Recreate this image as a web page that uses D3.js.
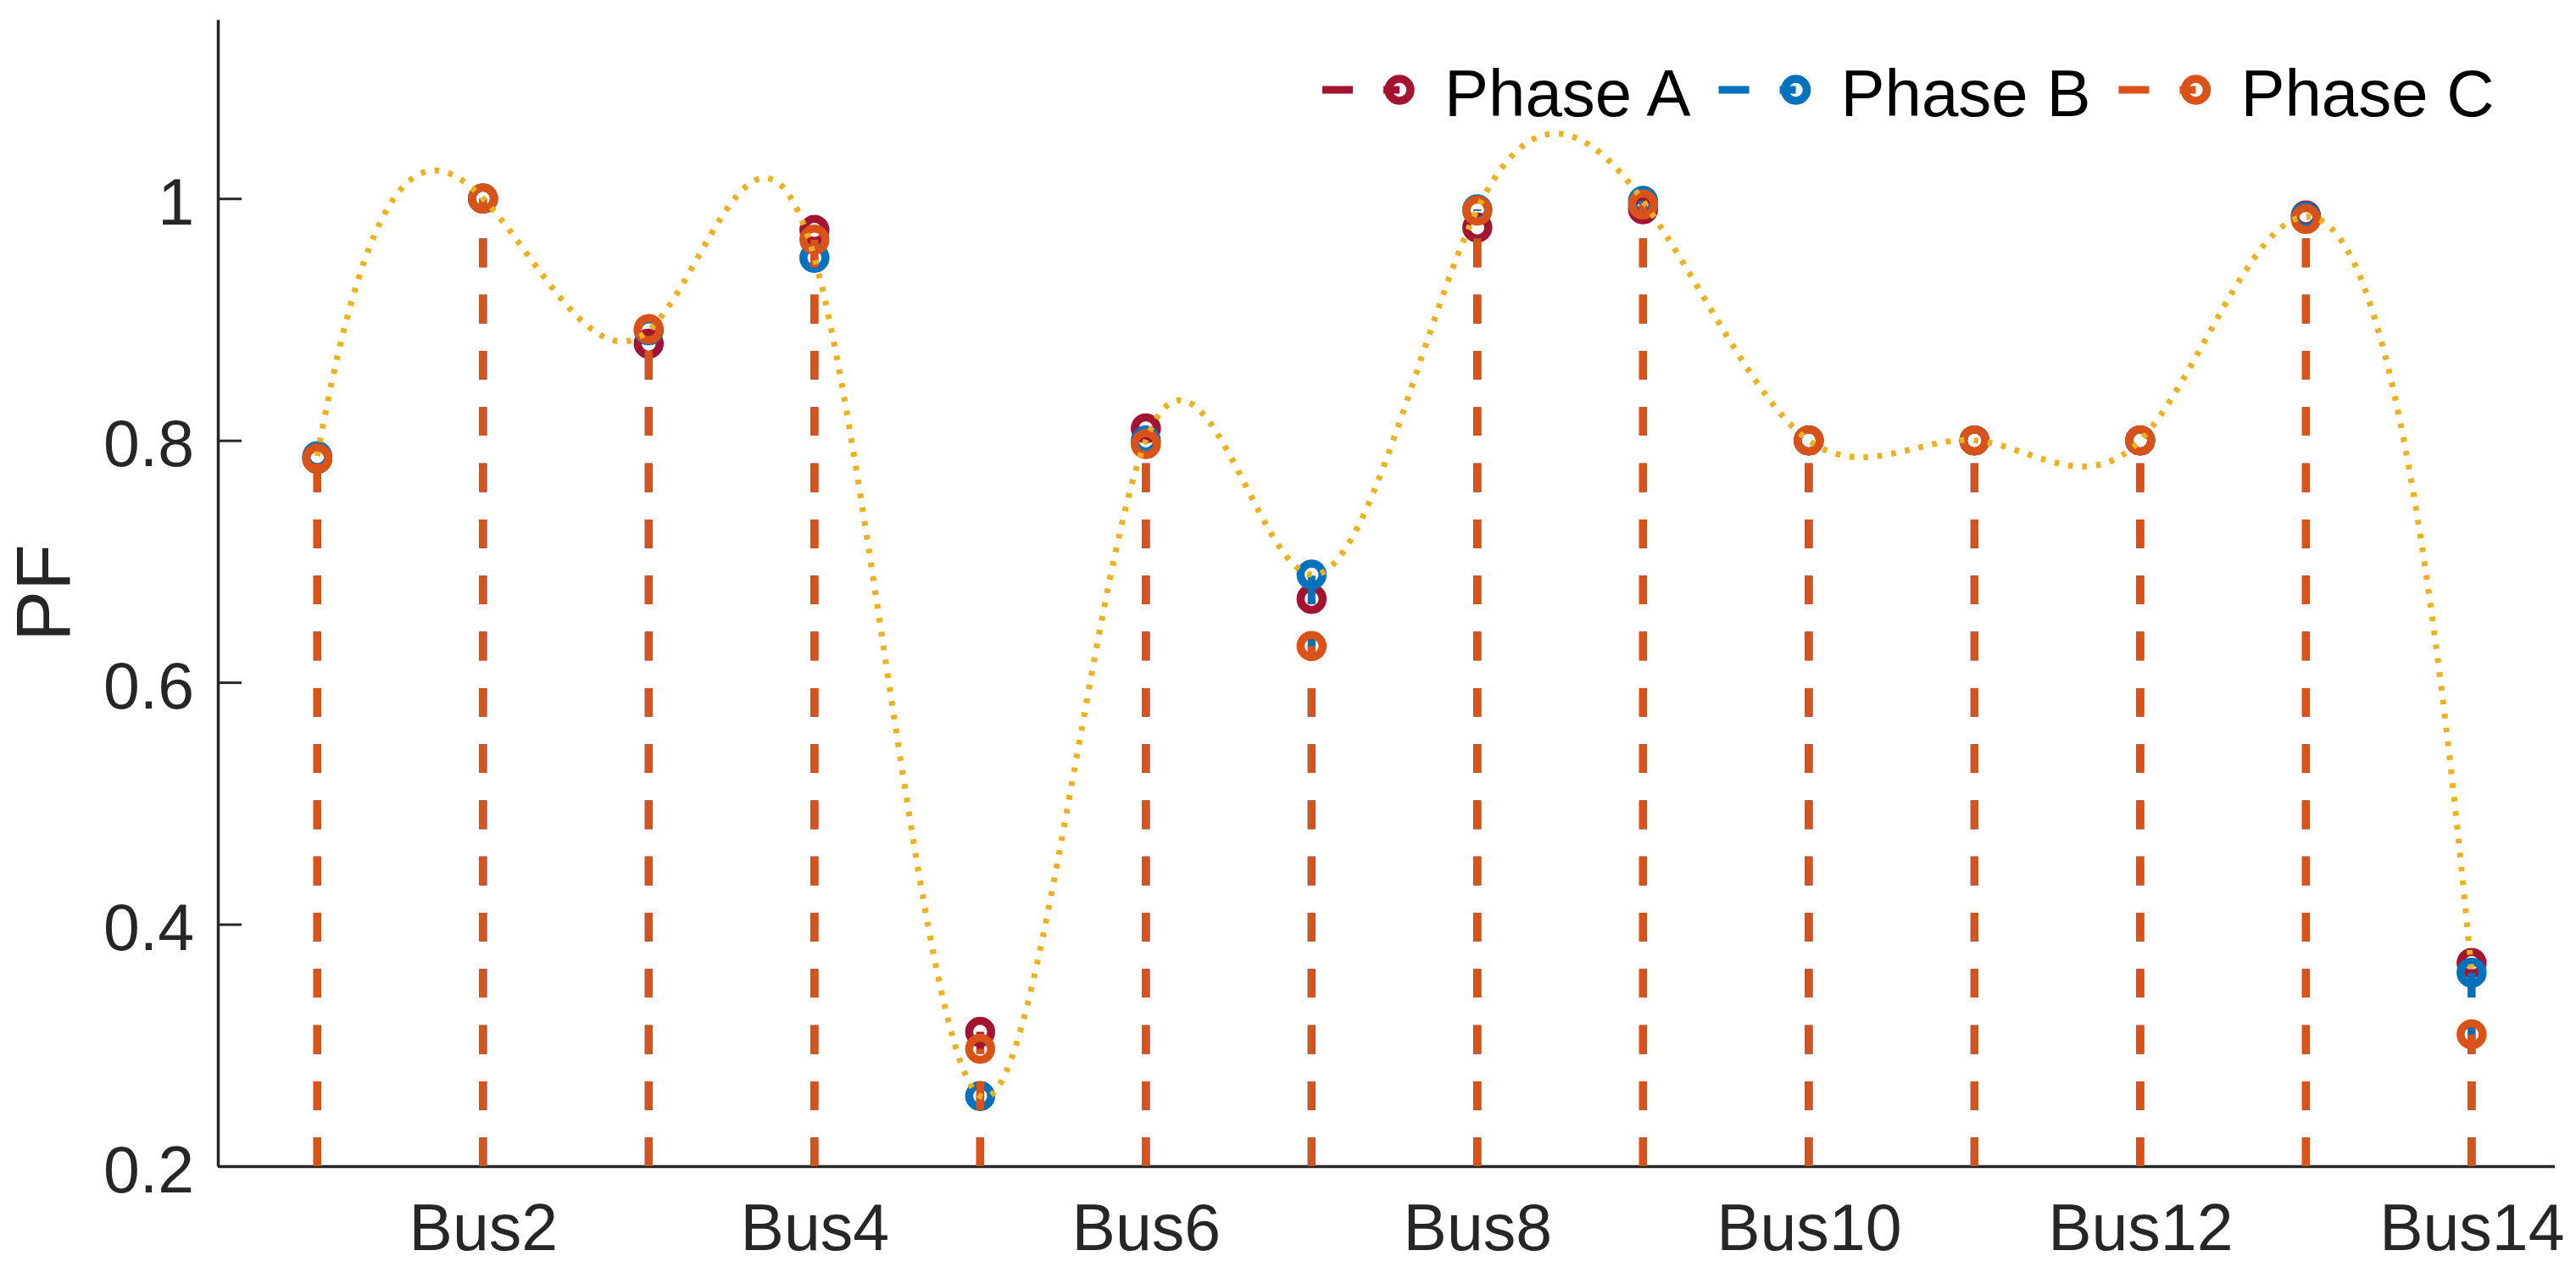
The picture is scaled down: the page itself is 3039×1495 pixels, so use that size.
<!DOCTYPE html>
<html>
<head>
<meta charset="utf-8">
<script src="https://cdn.jsdelivr.net/npm/d3@7"></script>
<style>
  html, body { margin: 0; padding: 0; background: #fff; }
  svg { display: block; }
  text { font-family: "Liberation Sans", Arial, Helvetica, sans-serif; }
</style>
</head>
<body>
<svg id="chart" width="3039" height="1495"></svg>
<script>
// ---------------- data ----------------
const buses = [1, 2, 3, 4, 5, 6, 7, 8, 9, 10, 11, 12, 13, 14];
const phaseA = [0.785, 1.000, 0.880, 0.974, 0.311, 0.810, 0.669, 0.976, 0.991, 0.800, 0.800, 0.800, 0.986, 0.368];
const phaseB = [0.787, 1.000, 0.891, 0.951, 0.258, 0.800, 0.689, 0.991, 0.998, 0.800, 0.800, 0.800, 0.985, 0.360];
const phaseC = [0.785, 1.000, 0.892, 0.966, 0.297, 0.797, 0.630, 0.990, 0.995, 0.800, 0.800, 0.800, 0.983, 0.309];
const seriesNames = ["Phase A", "Phase B", "Phase C"];
const seriesColors = ["#A2142F", "#0072BD", "#D95319"];
const yTicks = [0.2, 0.4, 0.6, 0.8, 1];
const xTicks = [2, 4, 6, 8, 10, 12, 14];
const xTickLabels = ["Bus2", "Bus4", "Bus6", "Bus8", "Bus10", "Bus12", "Bus14"];
const yLabel = "PF";
const curveColor = "#EDB120";

// ---------------- not-a-knot cubic spline curve (MATLAB spline) ----------------
function NotAKnot(context) { this._context = context; }
NotAKnot.prototype = {
  areaStart() { this._line = 0; },
  areaEnd() { this._line = NaN; },
  lineStart() { this._x = []; this._y = []; },
  point(x, y) { this._x.push(+x); this._y.push(+y); },
  lineEnd() {
    const X = this._x, Y = this._y, n = X.length, c = this._context;
    if (!n) return;
    c.moveTo(X[0], Y[0]);
    if (n < 4) { for (let i = 1; i < n; i++) c.lineTo(X[i], Y[i]); return; }
    const h = [];
    for (let i = 0; i < n - 1; i++) h.push(X[i + 1] - X[i]);
    const A = Array.from({length: n}, () => new Array(n).fill(0));
    const r = new Array(n).fill(0);
    A[0][0] = h[1]; A[0][1] = -(h[0] + h[1]); A[0][2] = h[0];
    for (let i = 1; i < n - 1; i++) {
      A[i][i - 1] = h[i - 1];
      A[i][i] = 2 * (h[i - 1] + h[i]);
      A[i][i + 1] = h[i];
      r[i] = 6 * ((Y[i + 1] - Y[i]) / h[i] - (Y[i] - Y[i - 1]) / h[i - 1]);
    }
    A[n - 1][n - 3] = h[n - 2]; A[n - 1][n - 2] = -(h[n - 3] + h[n - 2]); A[n - 1][n - 1] = h[n - 3];
    for (let k = 0; k < n; k++) {
      let p = k;
      for (let i = k + 1; i < n; i++) if (Math.abs(A[i][k]) > Math.abs(A[p][k])) p = i;
      [A[k], A[p]] = [A[p], A[k]]; [r[k], r[p]] = [r[p], r[k]];
      for (let i = k + 1; i < n; i++) {
        const f = A[i][k] / A[k][k];
        for (let j = k; j < n; j++) A[i][j] -= f * A[k][j];
        r[i] -= f * r[k];
      }
    }
    const M = new Array(n).fill(0);
    for (let i = n - 1; i >= 0; i--) {
      let s = r[i];
      for (let j = i + 1; j < n; j++) s -= A[i][j] * M[j];
      M[i] = s / A[i][i];
    }
    for (let i = 0; i < n - 1; i++) {
      const hi = h[i], d = (Y[i + 1] - Y[i]) / hi;
      const m0 = d - hi * (2 * M[i] + M[i + 1]) / 6;
      const m1 = d + hi * (M[i] + 2 * M[i + 1]) / 6;
      c.bezierCurveTo(X[i] + hi / 3, Y[i] + m0 * hi / 3, X[i + 1] - hi / 3, Y[i + 1] - m1 * hi / 3, X[i + 1], Y[i + 1]);
    }
  }
};
const curveNotAKnot = ctx => new NotAKnot(ctx);

// ---------------- layout ----------------
const svg = d3.select("#chart");
const x = d3.scaleLinear().domain([0.4, 14.5]).range([257, 3013.6]);
const y = d3.scaleLinear().domain([0.2, 1.148]).range([1376, 23]);
const axisColor = "#262626";
const tickFont = 77;

const gx = svg.append("g").attr("transform", `translate(0,${y(0.2)})`)
  .call(d3.axisBottom(x).tickValues(xTicks).tickFormat((d, i) => xTickLabels[i])
    .tickSizeInner(-28).tickSizeOuter(0).tickPadding(44));
const gy = svg.append("g").attr("transform", `translate(${x(0.4)},0)`)
  .call(d3.axisLeft(y).tickValues(yTicks).tickFormat(d => d === 1 ? "1" : d3.format(".1f")(d))
    .tickSizeInner(-28).tickSizeOuter(0).tickPadding(28));
[gx, gy].forEach(g => {
  g.select(".domain").attr("stroke", axisColor).attr("stroke-width", 3.5);
  g.selectAll(".tick line").attr("stroke", axisColor).attr("stroke-width", 3);
  g.selectAll(".tick text").attr("fill", axisColor).attr("font-size", tickFont)
    .attr("font-family", '"Liberation Sans", Arial, sans-serif');
});
gy.selectAll(".tick text").attr("dy", "0.39em");

svg.append("text").attr("transform", `translate(82,${(y(0.2) + y(1.148)) / 2}) rotate(-90)`)
  .attr("text-anchor", "middle").attr("font-size", 90).attr("fill", axisColor).text(yLabel);

// stems
const allSeries = [phaseA, phaseB, phaseC];
const stemWidth = 9, dash = "33.7 32.6";
allSeries.forEach((vals, si) => {
  const g = svg.append("g");
  g.selectAll("line").data(vals).join("line")
    .attr("x1", (d, i) => x(buses[i])).attr("x2", (d, i) => x(buses[i]))
    .attr("y1", y(0.2)).attr("y2", d => y(d))
    .attr("stroke", seriesColors[si]).attr("stroke-width", stemWidth)
    .attr("stroke-dasharray", dash);
  g.selectAll("circle").data(vals).join("circle")
    .attr("cx", (d, i) => x(buses[i])).attr("cy", d => y(d)).attr("r", 13)
    .attr("fill", "none").attr("stroke", seriesColors[si]).attr("stroke-width", 9.5);
});

// dotted spline through phase B
const line = d3.line().x((d, i) => x(buses[i])).y(d => y(d)).curve(curveNotAKnot);
svg.append("path").attr("d", line(phaseB)).attr("fill", "none")
  .attr("stroke", curveColor).attr("stroke-width", 7)
  .attr("stroke-dasharray", "5.5 11").attr("stroke-linecap", "butt");

// legend
const legY = 106;
let lx = 1560;
seriesNames.forEach((name, si) => {
  const g = svg.append("g");
  g.append("line").attr("x1", lx).attr("x2", lx + 91).attr("y1", legY).attr("y2", legY)
    .attr("stroke", seriesColors[si]).attr("stroke-width", stemWidth).attr("stroke-dasharray", "36 36");
  g.append("circle").attr("cx", lx + 91).attr("cy", legY).attr("r", 13)
    .attr("fill", "none").attr("stroke", seriesColors[si]).attr("stroke-width", 9.5);
  const t = g.append("text").attr("x", lx + 144).attr("y", 137).attr("font-size", 78)
    .attr("fill", "#000").text(name);
  lx = lx + 144 + t.node().getComputedTextLength() + 33;
});
</script>
</body>
</html>
